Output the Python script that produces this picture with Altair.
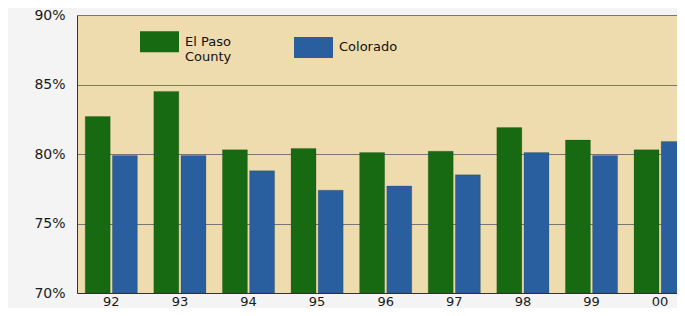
import altair as alt
import pandas as pd

years = ["92", "93", "94", "95", "96", "97", "98", "99", "00"]
el_paso = [82.7, 84.5, 80.3, 80.4, 80.1, 80.2, 81.9, 81.0, 80.3]
colorado = [79.9, 79.9, 78.8, 77.4, 77.7, 78.5, 80.1, 79.9, 80.9]
series = ["El Paso County", "Colorado"]
colors = ["#186a12", "#2a5f9f"]
y_ticks = [70, 75, 80, 85, 90]

rows = []
for i, yr in enumerate(years):
    rows.append({"year": yr, "series": series[0], "value": el_paso[i]})
    rows.append({"year": yr, "series": series[1], "value": colorado[i]})
df = pd.DataFrame(rows)

FONT = "DejaVu Sans"

chart = alt.Chart(df).mark_bar(stroke="#10300c", strokeWidth=0.4, strokeOpacity=0.5).encode(
    x=alt.X(
        "year:N",
        sort=years,
        scale=alt.Scale(range=[0, 617.4], paddingInner=0.24, paddingOuter=0.12),
        axis=alt.Axis(
            title=None, labelAngle=0, ticks=False, labelPadding=12,
            labelBaseline="alphabetic",
            labelFont=FONT, labelFontSize=13, labelColor="#1a1a1a",
            domainColor="#333333", domainWidth=1, grid=False,
        ),
    ),
    xOffset=alt.XOffset("series:N", sort=series, scale=alt.Scale(paddingInner=0.08)),
    y=alt.Y(
        "value:Q",
        scale=alt.Scale(domain=[70, 90], zero=False, nice=False),
        axis=alt.Axis(
            values=y_ticks, labelExpr="datum.value + '%'", title=None, ticks=False,
            labelPadding=12, labelFont=FONT, labelFontSize=14, labelColor="#1a1a1a",
            grid=True, gridColor="#777777", gridWidth=1,
            domainColor="#333333", domainWidth=1,
        ),
    ),
    y2=alt.datum(70),
    color=alt.Color(
        "series:N",
        sort=series,
        scale=alt.Scale(domain=series, range=colors),
        legend=alt.Legend(
            orient="none", legendX=63, legendY=7, direction="horizontal", title=None,
            symbolType="M-1,-0.54L1,-0.54L1,0.54L-1,0.54Z", symbolSize=1521,
            symbolStrokeWidth=0, symbolOpacity=1,
            labelFont=FONT, labelFontSize=13, labelColor="#111111", labelOffset=6,
            columnPadding=62,
            labelExpr="datum.label == 'El Paso County' ? ['El Paso', 'County'] : datum.label",
        ),
    ),
).properties(
    width=600,
    height=278,
    autosize=alt.AutoSizeParams(type="none"),
    padding={"left": 69, "top": 7, "right": 0, "bottom": 15},
    background="#f4f4f4",
).configure_view(fill="#efdcae", strokeWidth=0)

chart.save("out.html", embed_options={"renderer": "svg", "actions": False})
